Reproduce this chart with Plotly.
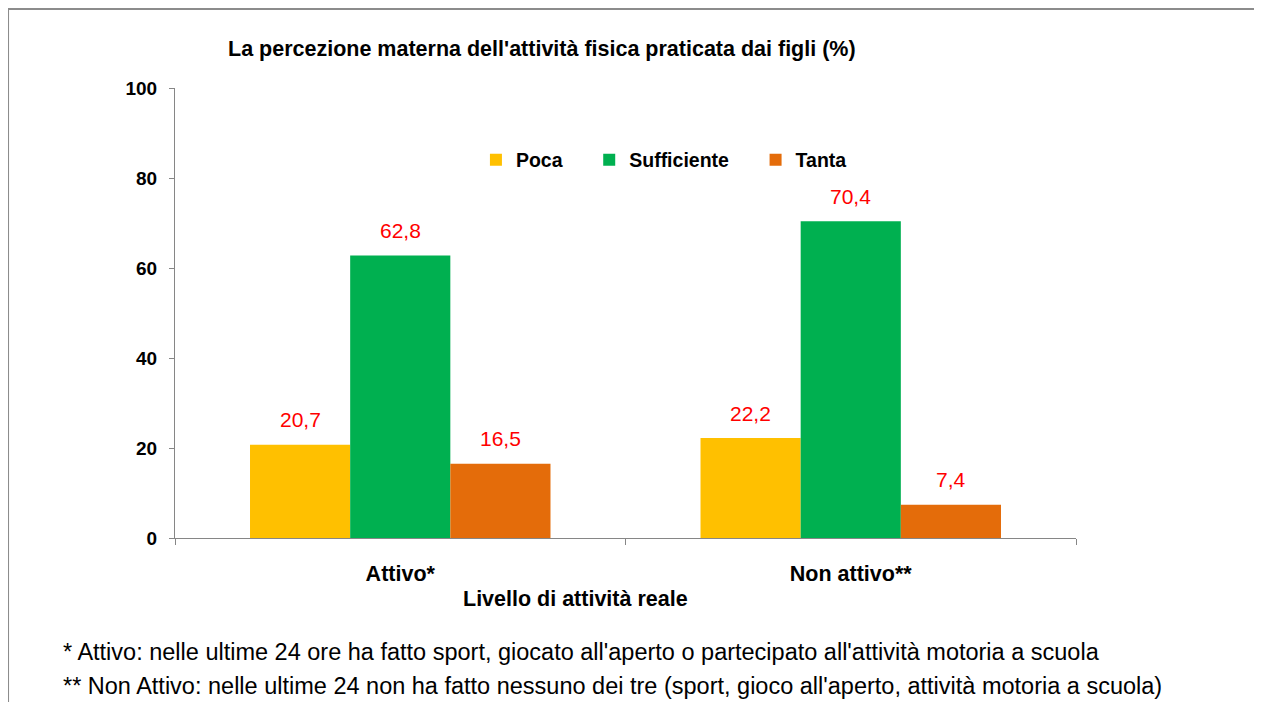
import plotly.graph_objects as go

# Data
categories = ['Attivo*', 'Non attivo**']
series_names = ['Poca', 'Sufficiente', 'Tanta']
poca = [20.7, 22.2]
sufficiente = [62.8, 70.4]
tanta = [16.5, 7.4]
y_ticks = [0, 20, 40, 60, 80, 100]

colors = ['#FFC000', '#00B050', '#E46C0A']
font_family = 'Liberation Sans, Arial, sans-serif'

fig = go.Figure()
for name, vals, col in zip(series_names, [poca, sufficiente, tanta], colors):
    # trailing non-breaking spaces widen the gap between legend entries
    fig.add_trace(go.Bar(x=categories, y=vals, name=f'<b>{name}</b>' + '&nbsp;' * 4,
                         marker=dict(color=col, line=dict(width=0))))

# data labels (red) above each bar
annotations = []
for i, vals in enumerate([poca, sufficiente, tanta]):
    for cat, v in zip(categories, vals):
        annotations.append(dict(x=cat, y=v, xref='x', yref='y', text=f'{v:.1f}'.replace('.', ','),
                                showarrow=False, xshift=(i - 1) * 100, yshift=25, yanchor='middle',
                                font=dict(size=21, color='#FF0000', family=font_family)))

# title, axis title and footnotes
annotations += [
    dict(text="<b>La percezione materna dell'attività fisica praticata dai figli (%)</b>",
         xref='paper', yref='paper', x=0.0566, y=1.0867, xanchor='left', yanchor='middle',
         showarrow=False, font=dict(size=21.5, color='black', family=font_family)),
    dict(text='<b>Livello di attività reale</b>', xref='paper', yref='paper', x=0.444, y=-0.1356,
         xanchor='center', yanchor='middle', showarrow=False,
         font=dict(size=21.5, color='black', family=font_family)),
    dict(text="* Attivo: nelle ultime 24 ore ha fatto sport, giocato all'aperto o partecipato all'attività motoria a scuola",
         xref='paper', yref='paper', x=-0.1265, y=-0.2533, xanchor='left', yanchor='middle',
         showarrow=False, font=dict(size=23.5, color='black', family=font_family)),
    dict(text="** Non Attivo: nelle ultime 24 non ha fatto nessuno dei tre (sport, gioco all'aperto, attività motoria a scuola)",
         xref='paper', yref='paper', x=-0.1265, y=-0.3289, xanchor='left', yanchor='middle',
         showarrow=False, font=dict(size=23.5, color='black', family=font_family)),
]

# page body has an 8px margin, so the figure is 8px smaller and shifted
fig.update_layout(
    width=1254, height=694,
    margin=dict(l=167, r=186, t=80, b=164),
    plot_bgcolor='white', paper_bgcolor='white',
    barmode='group', bargap=0.333, bargroupgap=0,
    showlegend=True,
    legend=dict(orientation='h', x=0.334, y=0.84, xanchor='left', yanchor='middle',
                font=dict(size=19.5, color='black', family=font_family), bgcolor='rgba(0,0,0,0)',
                traceorder='normal'),
    xaxis=dict(showline=True, linecolor='#868686', linewidth=1, ticks='outside', ticklen=6,
               tickcolor='#868686', tickson='boundaries', showgrid=False, zeroline=False,
               ticklabelstandoff=16,
               tickfont=dict(size=21.5, color='black', family=font_family),
               tickvals=categories, ticktext=[f'<b>{c}</b>' for c in categories]),
    yaxis=dict(range=[0, 100], tickvals=y_ticks, ticktext=[f'<b>{t}</b>' for t in y_ticks],
               showline=True, linecolor='#868686', linewidth=1, ticks='outside', ticklen=5,
               tickcolor='#868686', showgrid=False, zeroline=False, ticklabelstandoff=8,
               tickfont=dict(size=19, color='black', family=font_family)),
    annotations=annotations,
    shapes=[dict(type='rect', xref='paper', yref='paper', x0=-0.1853, x1=1.3, y0=-0.5, y1=1.1756,
                 line=dict(color='#8C8C8C', width=2), fillcolor='rgba(0,0,0,0)', layer='below')],
)

fig.write_html('out.html')
